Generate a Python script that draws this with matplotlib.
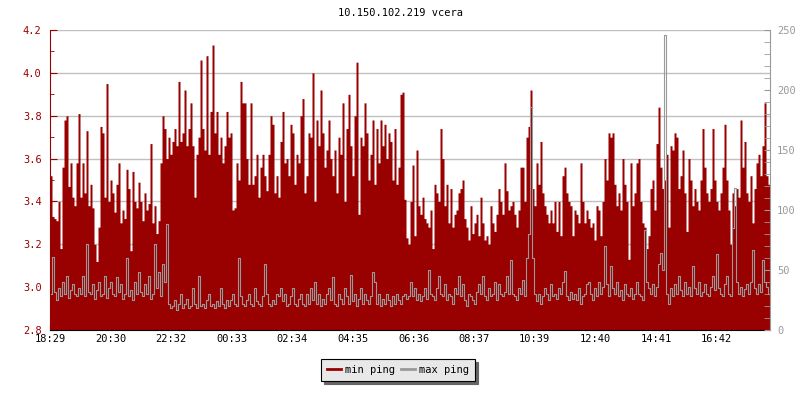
import numpy as np
import matplotlib
matplotlib.use('Agg')
from matplotlib import pyplot as plt
from matplotlib.lines import Line2D

title = '10.150.102.219 vcera'
tick_labels = ['18:29', '20:30', '22:32', '00:33', '02:34', '04:35',
               '06:36', '08:37', '10:39', '12:40', '14:41', '16:42']
span_min = 1440          # 24 h shown, in minutes
tick_step = 121.18       # minutes between time labels

# min ping (left axis), one value per 4 minutes
min_ping = [
    3.52, 3.33, 3.32, 3.31, 3.40, 3.18, 3.56, 3.78, 3.80, 3.47,
    3.58, 3.42, 3.38, 3.58, 3.81, 3.42, 3.58, 3.44, 3.73, 3.38,
    3.48, 3.37, 3.20, 3.12, 3.28, 3.75, 3.72, 3.42, 3.95, 3.40,
    3.50, 3.44, 3.35, 3.48, 3.58, 3.30, 3.36, 3.32, 3.55, 3.46,
    3.17, 3.54, 3.40, 3.37, 3.49, 3.40, 3.31, 3.44, 3.36, 3.39,
    3.67, 3.30, 3.38, 3.25, 3.31, 3.58, 3.80, 3.74, 3.60, 3.70,
    3.62, 3.68, 3.74, 3.66, 3.96, 3.68, 3.72, 3.92, 3.66, 3.74,
    3.86, 3.66, 3.42, 3.62, 3.70, 4.06, 3.74, 3.64, 4.08, 3.62,
    3.82, 4.13, 3.72, 3.82, 3.62, 3.70, 3.58, 3.66, 3.82, 3.70,
    3.72, 3.36, 3.37, 3.58, 3.50, 3.96, 3.86, 3.86, 3.60, 3.48,
    3.86, 3.48, 3.52, 3.62, 3.42, 3.56, 3.62, 3.52, 3.45, 3.62,
    3.80, 3.76, 3.44, 3.52, 3.42, 3.68, 3.82, 3.58, 3.60, 3.52,
    3.76, 3.72, 3.48, 3.62, 3.58, 3.80, 3.88, 3.44, 3.52, 3.72,
    3.70, 4.00, 3.40, 3.78, 3.66, 3.92, 3.72, 3.56, 3.64, 3.78,
    3.60, 3.52, 3.64, 3.44, 3.70, 3.62, 3.86, 3.40, 3.74, 3.90,
    3.66, 3.52, 3.80, 4.05, 3.34, 3.70, 3.66, 3.86, 3.72, 3.50,
    3.62, 3.78, 3.48, 3.74, 3.58, 3.78, 3.66, 3.76, 3.60, 3.72,
    3.68, 3.50, 3.74, 3.48, 3.56, 3.90, 3.91, 3.41, 3.23, 3.20,
    3.40, 3.57, 3.24, 3.64, 3.38, 3.34, 3.42, 3.32, 3.30, 3.28,
    3.36, 3.18, 3.48, 3.44, 3.40, 3.74, 3.60, 3.38, 3.48, 3.30,
    3.46, 3.28, 3.34, 3.36, 3.44, 3.46, 3.50, 3.32, 3.28, 3.22,
    3.38, 3.25, 3.30, 3.34, 3.24, 3.42, 3.30, 3.22, 3.24, 3.20,
    3.38, 3.30, 3.26, 3.34, 3.46, 3.40, 3.34, 3.58, 3.45, 3.36,
    3.38, 3.40, 3.34, 3.28, 3.36, 3.56, 3.56, 3.40, 3.70, 3.75,
    3.92, 3.46, 3.38, 3.58, 3.48, 3.68, 3.44, 3.38, 3.34, 3.30,
    3.36, 3.30, 3.40, 3.26, 3.40, 3.24, 3.52, 3.56, 3.44, 3.40,
    3.38, 3.24, 3.36, 3.34, 3.30, 3.58, 3.40, 3.30, 3.36, 3.32,
    3.28, 3.30, 3.22, 3.38, 3.36, 3.24, 3.40, 3.60, 3.50, 3.72,
    3.70, 3.72, 3.48, 3.38, 3.44, 3.36, 3.60, 3.48, 3.40, 3.13,
    3.58, 3.38, 3.44, 3.58, 3.60, 3.40, 3.30, 3.28, 3.18, 3.24,
    3.46, 3.50, 3.36, 3.67, 3.84, 3.56, 3.46, 3.50, 3.62, 3.28,
    3.66, 3.64, 3.72, 3.70, 3.46, 3.52, 3.64, 3.44, 3.26, 3.60,
    3.50, 3.38, 3.46, 3.40, 3.36, 3.50, 3.74, 3.56, 3.44, 3.40,
    3.46, 3.74, 3.50, 3.40, 3.36, 3.44, 3.56, 3.76, 3.50, 3.36,
    3.20, 3.44, 3.38, 3.46, 3.42, 3.78, 3.56, 3.68, 3.44, 3.40,
    3.52, 3.30, 3.46, 3.58, 3.62, 3.52, 3.66, 3.86, 3.52, 3.48,
]

# max ping (right axis), same sampling
max_ping = [
    30, 61, 32, 25, 35, 28, 40, 30, 45, 27,
    33, 38, 30, 28, 35, 30, 45, 28, 72, 32,
    30, 38, 26, 33, 40, 28, 30, 45, 27, 35,
    40, 30, 28, 44, 32, 38, 26, 30, 60, 28,
    33, 25, 40, 30, 48, 32, 28, 38, 30, 45,
    26, 30, 72, 35, 48, 28, 55, 40, 88, 22,
    18, 20, 25, 17, 22, 30, 18, 22, 26, 18,
    20, 35, 22, 18, 45, 20, 22, 18, 25, 30,
    20, 22, 18, 24, 20, 35, 22, 18, 25, 20,
    25, 30, 22, 20, 60, 28, 22, 20, 25, 30,
    22, 20, 35, 24, 22, 20, 28, 55, 30, 22,
    20, 25, 22, 30, 28, 35, 24, 30, 20, 22,
    28, 35, 22, 20, 26, 30, 22, 20, 30, 22,
    35, 25, 40, 22, 30, 20, 26, 22, 30, 35,
    25, 44, 22, 20, 30, 26, 22, 35, 28, 22,
    46, 24, 30, 20, 26, 35, 22, 30, 25, 22,
    28, 48, 40, 22, 30, 20, 26, 22, 30, 25,
    20, 28, 22, 30, 25, 22, 28, 30, 26, 28,
    40, 28, 35, 25, 30, 24, 28, 35, 26, 50,
    30, 28, 25, 35, 45, 30, 28, 38, 25, 30,
    28, 22, 35, 30, 45, 28, 38, 25, 20, 30,
    28, 25, 22, 32, 38, 30, 45, 28, 25, 35,
    28, 30, 40, 25, 38, 30, 28, 32, 45, 30,
    58, 30, 28, 25, 35, 30, 42, 28, 60, 80,
    186, 60, 30, 24, 30, 22, 28, 35, 30, 25,
    38, 28, 30, 26, 35, 30, 40, 49, 28, 25,
    32, 26, 30, 25, 35, 22, 28, 30, 38, 40,
    30, 25, 35, 28, 40, 30, 36, 70, 38, 28,
    53, 35, 30, 40, 28, 33, 25, 38, 30, 28,
    35, 26, 30, 40, 30, 28, 25, 83, 40, 35,
    30, 38, 28, 36, 55, 64, 50, 246, 30, 22,
    35, 28, 38, 30, 45, 33, 28, 40, 30, 36,
    28, 53, 35, 30, 40, 28, 32, 38, 30, 28,
    36, 45, 33, 63, 35, 30, 28, 38, 45, 30,
    28, 85, 118, 40, 30, 36, 28, 34, 38, 30,
    40, 67, 35, 30, 38, 32, 58, 40, 36, 30,
]

red = '#990000'
grey = '#999999'
plt.rcParams['font.family'] = 'DejaVu Sans Mono'
plt.rcParams['font.size'] = 7.5

fig = plt.figure(figsize=(8, 4), dpi=100)
ax = fig.add_axes([50/800, 70/400, 720/800, 300/400])
ax2 = ax.twinx()

# red area, step per sample
n = len(min_ping)
edges = np.linspace(0, span_min, n + 1)
ax.fill_between(edges, 2.8, min_ping + [min_ping[-1]], step='post', color=red, lw=0)

m = len(max_ping)
xc = (np.arange(m) + 0.5) * span_min / m
ax2.plot(xc, max_ping, drawstyle='steps-mid', color=grey, lw=0.8)

ax.set_xlim(0, span_min)
ax.set_ylim(2.8, 4.2)
ax2.set_ylim(0, 250)

ax.set_xticks([i * tick_step for i in range(len(tick_labels))])
ax.set_xticklabels(tick_labels)
ax.set_yticks(np.arange(2.8, 4.21, 0.2))
ax.set_yticklabels(['%.1f' % v for v in np.arange(2.8, 4.21, 0.2)])
ax.set_yticks(np.arange(2.9, 4.2, 0.2), minor=True)
ax2.set_yticks([0, 50, 100, 150, 200, 250])
ax2.set_yticks(np.arange(0, 251, 10), minor=True)

ax.set_axisbelow(True)
ax.grid(axis='y', which='major', color='#c0c0c0', lw=1)

ax.spines['top'].set_visible(False)
ax.spines['right'].set_visible(False)
ax.spines['left'].set_color(red)
ax.spines['bottom'].set_color('black')
for s in ['top', 'left', 'bottom']:
    ax2.spines[s].set_visible(False)
ax2.spines['right'].set_color(grey)

ax.tick_params(axis='y', which='both', direction='in', colors=red, length=5, pad=6)
ax.tick_params(axis='y', which='minor', length=3)
ax.tick_params(axis='x', direction='in', length=5, colors='black', pad=3)
ax2.tick_params(axis='y', which='both', direction='in', colors=grey, length=4, pad=5)

fig.text(0.5, 1 - 13/400, title, ha='center', va='center')

handles = [Line2D([], [], color=red, lw=2), Line2D([], [], color=grey, lw=2)]
leg = fig.legend(handles, ['min ping', 'max ping'], loc='center',
                 bbox_to_anchor=(398/800, 1 - 370/400), ncol=2,
                 handlelength=1.3, handletextpad=0.4, columnspacing=0.6,
                 fancybox=False, framealpha=1, facecolor='#e8e8e8',
                 edgecolor='black', borderpad=0.6,
                 shadow={'color': '#666666', 'alpha': 1.0})
leg.get_frame().set_linewidth(0.8)

fig.savefig('out.png', dpi=100)
